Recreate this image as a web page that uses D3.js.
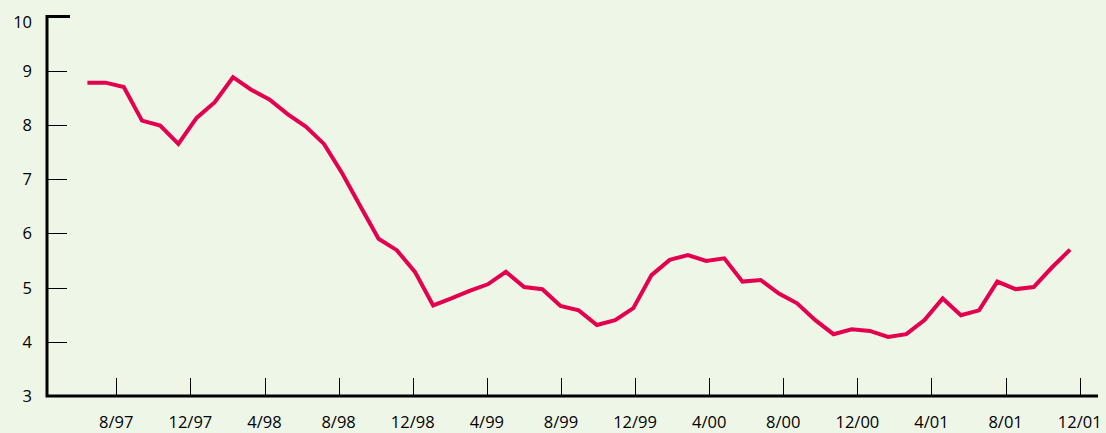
<!doctype html>
<html lang="en">
  <head>
    <meta charset="UTF-8" />
    <title>Line chart 1997-2001</title>
    <script src="https://unpkg.com/d3@7.9.0/dist/d3.min.js"></script>
    <style>
      body {
        margin: 0;
        background: #eef6e8;
      }
      svg {
        display: block;
        font-family: 'Open Sans', sans-serif;
      }
    </style>
  </head>
  <body>
    <div id="chart"></div>
    <script>
      // tick labels, one every 4 months starting 8/97
      const xTickLabels = [
        '8/97', '12/97', '4/98', '8/98', '12/98', '4/99', '8/99',
        '12/99', '4/00', '8/00', '12/00', '4/01', '8/01', '12/01',
      ];
      const yTicks = [3, 4, 5, 6, 7, 8, 9, 10];

      // series values
      const values = [
        8.78, 8.78, 8.7, 8.08, 7.99, 7.65, 8.13, 8.42, 8.88, 8.65,
        8.47, 8.2, 7.97, 7.65, 7.11, 6.5, 5.9, 5.69, 5.29, 4.67,
        4.8, 4.94, 5.06, 5.29, 5.01, 4.97, 4.66, 4.58, 4.31, 4.4,
        4.62, 5.23, 5.51, 5.6, 5.49, 5.54, 5.11, 5.14, 4.89, 4.71,
        4.4, 4.14, 4.23, 4.2, 4.09, 4.14, 4.4, 4.8, 4.49, 4.58,
        5.11, 4.97, 5.01, 5.37, 5.7,
      ];
      // first and last point, in months after the 8/97 tick
      const firstMonth = -1.56;
      const lastMonth = 51.48;

      const width = 1106;
      const height = 433;
      const axisX = 47;
      const axisY = 396;

      const svg = d3
        .select('#chart')
        .append('svg')
        .attr('width', width)
        .attr('height', height);

      const x = d3
        .scaleLinear()
        .domain([0, (xTickLabels.length - 1) * 4])
        .range([116.3, 1079.7]);

      const y = d3.scaleLinear().domain([3, 10]).range([axisY, 16.5]);

      const xi = d3
        .scaleLinear()
        .domain([0, values.length - 1])
        .range([x(firstMonth), x(lastMonth)]);

      // y ticks
      svg
        .selectAll('.ytick')
        .data(yTicks.filter((d) => d > 3 && d < 10))
        .enter()
        .append('line')
        .attr('x1', axisX)
        .attr('x2', axisX + 20)
        .attr('y1', (d) => Math.round(y(d)) + 0.5)
        .attr('y2', (d) => Math.round(y(d)) + 0.5)
        .attr('stroke', '#000')
        .attr('stroke-width', 1);

      svg
        .selectAll('.ylabel')
        .data(yTicks)
        .enter()
        .append('text')
        .attr('x', 32)
        .attr('y', (d) => y(d) + (d === 10 ? 6 : 0))
        .attr('dy', '0.36em')
        .attr('text-anchor', 'end')
        .style('font-size', '16.5px')
        .attr('fill', '#000')
        .text((d) => d);

      // x ticks
      svg
        .selectAll('.xtick')
        .data(xTickLabels)
        .enter()
        .append('line')
        .attr('x1', (d, i) => Math.round(x(i * 4)) + 0.5)
        .attr('x2', (d, i) => Math.round(x(i * 4)) + 0.5)
        .attr('y1', axisY - 18)
        .attr('y2', axisY)
        .attr('stroke', '#000')
        .attr('stroke-width', 1);

      svg
        .selectAll('.xlabel')
        .data(xTickLabels)
        .enter()
        .append('text')
        .attr('x', (d, i) => x(i * 4))
        .attr('y', 428)
        .attr('text-anchor', 'middle')
        .style('font-size', '16.5px')
        .attr('fill', '#000')
        .text((d) => d);

      // axes
      svg
        .append('path')
        .attr('d', `M${axisX + 23},${y(10)}H${axisX}V${axisY}H1098`)
        .attr('fill', 'none')
        .attr('stroke', '#000')
        .attr('stroke-width', 3);

      // the series
      const line = d3
        .line()
        .x((d, i) => xi(i))
        .y((d) => y(d));

      svg
        .append('path')
        .datum(values)
        .attr('d', line)
        .attr('fill', 'none')
        .attr('stroke', '#e3004f')
        .attr('stroke-width', 4)
        .attr('stroke-linejoin', 'miter');
    </script>
  </body>
</html>
